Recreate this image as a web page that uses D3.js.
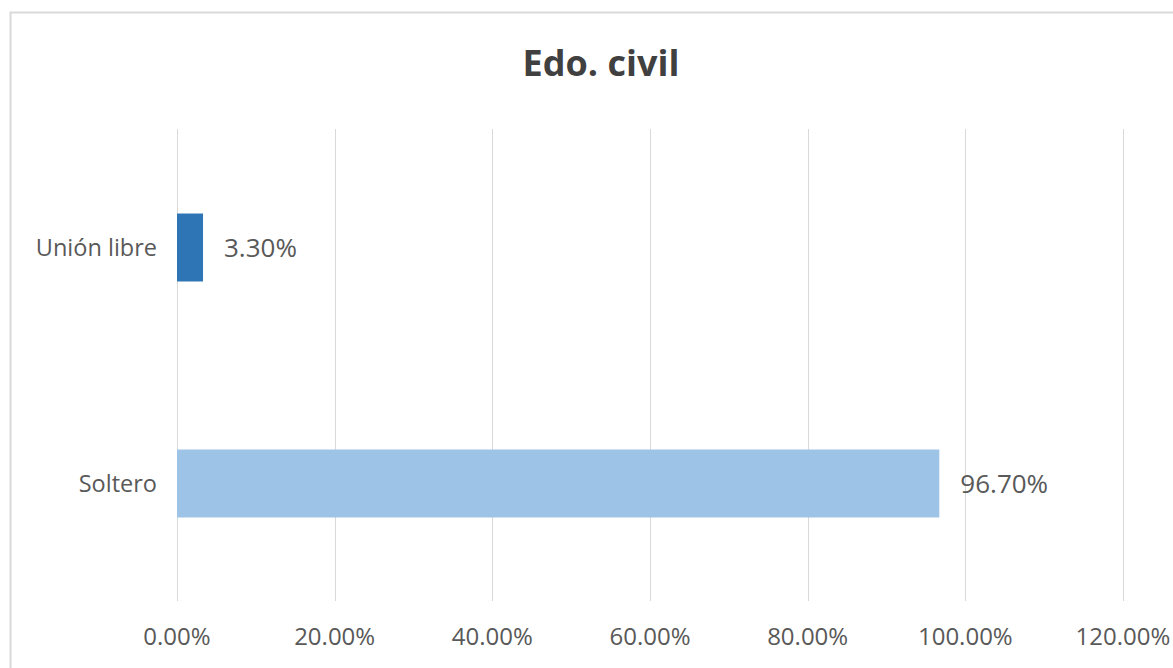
<!DOCTYPE html>
<html>
<head>
<meta charset="utf-8">
<script src="https://cdn.jsdelivr.net/npm/d3@7"></script>
<style>
  body { margin: 0; background: #fff; }
  text { font-family: "Open Sans", sans-serif; }
</style>
</head>
<body>
<div class="canvas"></div>
<script>
const categories = ["Unión libre", "Soltero"];
const values = [3.3, 96.7];
const colors = ["#2e75b6", "#9dc3e6"];
const ticks = [0, 20, 40, 60, 80, 100, 120];

const width = 1173, height = 668;
const svg = d3.select(".canvas").append("svg")
  .attr("width", width)
  .attr("height", height);

// chart frame
svg.append("rect")
  .attr("x", 10.5).attr("y", 12.5)
  .attr("width", 1200).attr("height", 700)
  .attr("fill", "#fff")
  .attr("stroke", "#d9d9d9")
  .attr("stroke-width", 2);

svg.append("text")
  .attr("x", 601).attr("y", 76)
  .attr("text-anchor", "middle")
  .attr("font-size", 36)
  .attr("font-weight", "bold")
  .attr("fill", "#404040")
  .text("Edo. civil");

let xScale = d3.scaleLinear().domain([0, 120]).range([177, 1123]);
let yScale = d3.scaleBand()
  .domain(categories)
  .range([129.5, 601.5])
  .paddingInner(0.712)
  .paddingOuter(0.356);

// gridlines
svg.selectAll(".grid").data(ticks).enter()
  .append("line")
  .attr("class", "grid")
  .attr("x1", d => Math.round(xScale(d)) + 0.5)
  .attr("x2", d => Math.round(xScale(d)) + 0.5)
  .attr("y1", 129)
  .attr("y2", 601)
  .attr("stroke", "#d9d9d9")
  .attr("stroke-width", 1);

// tick labels
svg.selectAll(".tick").data(ticks).enter()
  .append("text")
  .attr("class", "tick")
  .attr("x", d => xScale(d))
  .attr("y", 645)
  .attr("text-anchor", "middle")
  .attr("font-size", 24)
  .attr("fill", "#595959")
  .text(d => d3.format(".2f")(d) + "%");

// bars
svg.selectAll(".bar").data(values).enter()
  .append("rect")
  .attr("class", "bar")
  .attr("x", xScale(0))
  .attr("y", (d, i) => yScale(categories[i]))
  .attr("height", yScale.bandwidth())
  .attr("width", d => xScale(d) - xScale(0))
  .attr("fill", (d, i) => colors[i]);

// category labels
svg.selectAll(".cat").data(categories).enter()
  .append("text")
  .attr("class", "cat")
  .attr("x", 157)
  .attr("y", d => yScale(d) + yScale.bandwidth() / 2)
  .attr("dy", "0.35em")
  .attr("text-anchor", "end")
  .attr("font-size", 23.5)
  .attr("fill", "#595959")
  .text(d => d);

// data labels
svg.selectAll(".val").data(values).enter()
  .append("text")
  .attr("class", "val")
  .attr("x", d => xScale(d) + 21)
  .attr("y", (d, i) => yScale(categories[i]) + yScale.bandwidth() / 2)
  .attr("dy", "0.35em")
  .attr("font-size", 26)
  .attr("fill", "#595959")
  .text(d => d3.format(".2f")(d) + "%");
</script>
</body>
</html>
